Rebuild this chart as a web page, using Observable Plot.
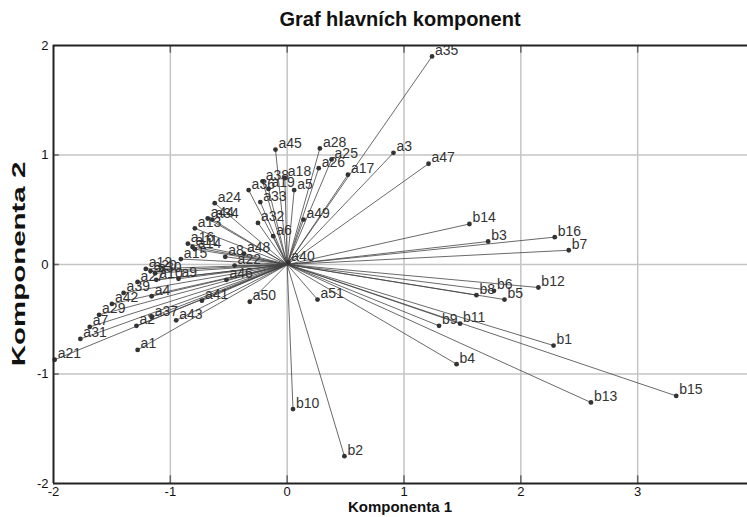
<!DOCTYPE html>
<html>
<head>
<meta charset="utf-8">
<script src="https://cdn.jsdelivr.net/npm/d3@7"></script>
<script src="https://cdn.jsdelivr.net/npm/@observablehq/plot@0.6"></script>
<style>
  html, body { margin: 0; padding: 0; background: #fff; }
  #wrap { position: relative; width: 747px; height: 517px; overflow: hidden; }
  #title { position: absolute; left: 0; width: 800px; top: 8px; text-align: center;
    font-family: "Liberation Sans Narrow", "Liberation Sans", Arial, sans-serif; font-weight: bold; font-size: 20px; color: #111; }
  #xlab { position: absolute; left: 0; width: 800px; top: 498px; text-align: center;
    font-family: "Liberation Sans Narrow", "Liberation Sans", Arial, sans-serif; font-weight: bold; font-size: 15px; color: #111; }
  #ylab { position: absolute; left: 19px; top: 264px; transform: translate(-50%, -50%) rotate(-90deg) scaleX(1.55);
    font-family: "Liberation Sans", Arial, sans-serif; font-weight: bold; font-size: 19px; color: #111; white-space: nowrap; }
  svg { position: absolute; left: 0; top: 0; }
</style>
</head>
<body>
<div id="wrap">
  <div id="chart"></div>
  <div id="title">Graf hlavních komponent</div>
  <div id="xlab">Komponenta 1</div>
  <div id="ylab">Komponenta 2</div>
</div>
<script>
const labels = ["a35","a3","a47","a28","a25","a26","a17","a45","a18","a19","a38","a36","a5","a33","a32","a6","a49","a24","a44","a34","a13","a16","a11","a14","a15","a8","a48","a22","a40",
  "a12","a20","a30","a27","a10","a9","a39","a4","a42","a29","a7","a31","a21","a2","a37","a43","a1","a46","a41","a50","a51",
  "b14","b3","b16","b7","b12","b6","b8","b5","b9","b11","b1","b4","b13","b15","b10","b2"];
const pc1 = [1.24,0.91,1.21,0.28,0.38,0.27,0.52,-0.10,-0.02,-0.16,-0.21,-0.33,0.06,-0.23,-0.25,-0.12,0.14,-0.62,-0.68,-0.64,-0.79,-0.85,-0.81,-0.79,-0.91,-0.53,-0.37,-0.45,0.01,
  -1.21,-1.17,-1.13,-1.28,-1.12,-0.93,-1.40,-1.16,-1.50,-1.61,-1.69,-1.77,-1.99,-1.29,-1.16,-0.95,-1.28,-0.52,-0.73,-0.32,0.26,
  1.56,1.72,2.29,2.41,2.15,1.77,1.62,1.86,1.30,1.48,2.28,1.45,2.60,3.33,0.05,0.49];
const pc2 = [1.90,1.02,0.92,1.06,0.96,0.88,0.82,1.05,0.79,0.69,0.76,0.68,0.68,0.57,0.38,0.26,0.41,0.56,0.42,0.41,0.33,0.19,0.16,0.14,0.05,0.07,0.10,-0.01,0.02,
  -0.04,-0.06,-0.08,-0.16,-0.14,-0.13,-0.26,-0.29,-0.36,-0.46,-0.57,-0.68,-0.87,-0.56,-0.48,-0.51,-0.78,-0.14,-0.33,-0.34,-0.32,
  0.37,0.21,0.25,0.13,-0.21,-0.24,-0.28,-0.32,-0.56,-0.54,-0.74,-0.91,-1.26,-1.20,-1.32,-1.75];
const xTicks = [-2,-1,0,1,2,3];
const yTicks = [-2,-1,0,1,2];

const data = labels.map((l, i) => ({label: l, x: pc1[i], y: pc2[i]}));
const dark = "#333";
const grid = "#c4c4c4";

const chart = Plot.plot({
  width: 747,
  height: 517,
  marginLeft: 53,
  marginRight: 0,
  marginTop: 45,
  marginBottom: 34,
  style: {fontFamily: "'Liberation Sans Narrow', 'Liberation Sans', Arial, sans-serif", fontSize: "13px", color: "#111", background: "#fff"},
  x: {domain: [-2, 3.94], ticks: xTicks, tickSize: 0, tickPadding: 3, tickFormat: d => String(d), label: null},
  y: {domain: [-2, 2], ticks: yTicks, tickSize: 0, tickPadding: 5, tickFormat: d => String(d), label: null},
  marks: [
    Plot.ruleX(xTicks.slice(1), {stroke: grid, strokeWidth: 1.5}),
    Plot.ruleY([-1, 0, 1], {stroke: grid, strokeWidth: 1.5}),
    Plot.ruleX(xTicks.slice(1), {y1: -2, y2: -1.93, stroke: "#666", strokeWidth: 1.5}),
    Plot.ruleX(xTicks.slice(1), {y1: 2, y2: 1.93, stroke: "#666", strokeWidth: 1.5}),
    Plot.ruleY([-1, 0, 1], {x1: -2, x2: -1.95, stroke: "#666", strokeWidth: 1.5}),
    Plot.link(data, {x1: d => 0, y1: d => 0, x2: "x", y2: "y", stroke: "#444", strokeWidth: 0.8}),
    Plot.dot(data, {x: "x", y: "y", r: 2.4, fill: dark, stroke: null}),
    Plot.text(data, {x: "x", y: "y", text: "label", dx: 3, dy: -6, textAnchor: "start", fontSize: 14, fill: "#333", fontFamily: "'Liberation Sans', Arial, sans-serif"}),
    Plot.ruleY([-2, 2], {stroke: "#222", strokeWidth: 2}),
    Plot.ruleX([-2], {stroke: "#222", strokeWidth: 2})
  ]
});
document.getElementById("chart").appendChild(chart);
</script>
</body>
</html>
